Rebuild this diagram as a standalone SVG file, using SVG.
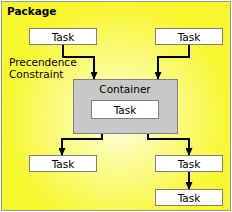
<svg xmlns="http://www.w3.org/2000/svg" width="232" height="212" viewBox="0 0 232 212">
<defs>
<radialGradient id="bg" gradientUnits="userSpaceOnUse" cx="118" cy="118" r="115">
<stop offset="0" stop-color="#FFFFF0"/>
<stop offset="0.35" stop-color="#FCFCA0"/>
<stop offset="1" stop-color="#F7F72E"/>
</radialGradient>
<marker id="arr" markerWidth="8" markerHeight="7" refX="7" refY="3.5" orient="auto" markerUnits="userSpaceOnUse">
<path d="M0,0 L8,3.5 L0,7 Z" fill="#000"/>
</marker>
<style>
.task rect{fill:#fff;stroke:#808080;stroke-width:1}
.t{font-family:"DejaVu Sans",Verdana,sans-serif;font-size:10.5px;fill:#000}
.c{stroke:#000;stroke-width:2;fill:none;marker-end:url(#arr)}
</style>
</defs>
<g id="package">
<rect x="1.5" y="1.5" width="229" height="209" fill="url(#bg)" stroke="#999" stroke-width="1"/>
<text class="t" x="7" y="15" font-weight="bold" font-size="11">Package</text>
</g>
<g id="label">
<text class="t" x="9" y="66">Precendence</text>
<text class="t" x="9" y="78">Constraint</text>
</g>
<g id="container">
<rect x="73.5" y="79.5" width="104" height="54" fill="#C8C8C8" stroke="#808080"/>
<text class="t" x="125" y="93" text-anchor="middle">Container</text>
</g>
<g id="task-inner" class="task">
<rect x="91.5" y="100.5" width="67" height="18"/>
<text class="t" x="125" y="114" text-anchor="middle">Task</text>
</g>
<g id="task1" class="task">
<rect x="29.5" y="28.5" width="67" height="16"/>
<text class="t" x="63" y="41" text-anchor="middle">Task</text>
</g>
<g id="task2" class="task">
<rect x="155.5" y="28.5" width="67" height="16"/>
<text class="t" x="189" y="41" text-anchor="middle">Task</text>
</g>
<g id="task3" class="task">
<rect x="29.5" y="155.5" width="67" height="16"/>
<text class="t" x="63" y="168" text-anchor="middle">Task</text>
</g>
<g id="task4" class="task">
<rect x="155.5" y="155.5" width="67" height="16"/>
<text class="t" x="189" y="168" text-anchor="middle">Task</text>
</g>
<g id="task5" class="task">
<rect x="155.5" y="189.5" width="67" height="16"/>
<text class="t" x="189" y="202" text-anchor="middle">Task</text>
</g>
<g id="connectors">
<path class="c" d="M63,45 V57 H94 V79"/>
<path class="c" d="M189,45 V57 H158 V79"/>
<path class="c" d="M102,134 V139 H62 V155"/>
<path class="c" d="M148,134 V139 H189 V155"/>
<path class="c" d="M189,172 V189"/>
</g>
</svg>
